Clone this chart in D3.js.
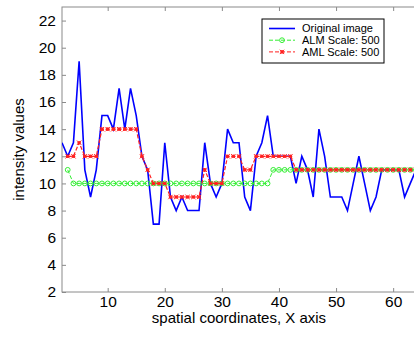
<!DOCTYPE html>
<html>
<head>
<meta charset="utf-8">
<script src="https://cdn.jsdelivr.net/npm/d3@7"></script>
<style>
  body { margin: 0; background: #fff; }
  svg { display: block; font-family: "Liberation Sans", Arial, sans-serif; }
</style>
</head>
<body>
<div id="chart"></div>
<script>
(function() {
    // x positions and intensity values
    var xOriginal = [2, 3, 4, 5, 6, 7, 8, 9, 10, 11, 12, 13, 14, 15, 16, 17, 18, 19, 20, 21, 22, 23, 24, 25, 26, 27, 28, 29, 30, 31, 32, 33,
                     34, 35, 36, 37, 38, 39, 40, 41, 42, 43, 44, 45, 46, 47, 48, 49, 50, 51, 52, 53, 54, 55, 56, 57, 58, 59, 60, 61, 62, 63, 64];
    var original = [13, 12, 13, 19, 11, 9, 11, 15, 15, 14, 17, 14, 17, 15, 12, 11, 7, 7, 13, 9, 8, 9, 8, 8, 8, 13, 10, 9, 10, 14, 13, 13,
                    9, 8, 12, 13, 15, 12, 12, 12, 12, 10, 12, 11, 9, 14, 12, 9, 9, 9, 8, 10, 12, 10, 8, 9, 11, 11, 11, 11, 9, 10, 11];

    var xScaled = [3, 4, 5, 6, 7, 8, 9, 10, 11, 12, 13, 14, 15, 16, 17, 18, 19, 20, 21, 22, 23, 24, 25, 26, 27, 28, 29, 30, 31, 32, 33,
                   34, 35, 36, 37, 38, 39, 40, 41, 42, 43, 44, 45, 46, 47, 48, 49, 50, 51, 52, 53, 54, 55, 56, 57, 58, 59, 60, 61, 62, 63, 64];
    var alm = [11, 10, 10, 10, 10, 10, 10, 10, 10, 10, 10, 10, 10, 10, 10, 10, 10, 10, 10, 10, 10, 10, 10, 10, 10, 10, 10, 10, 10, 10, 10,
               10, 10, 10, 10, 10, 11, 11, 11, 11, 11, 11, 11, 11, 11, 11, 11, 11, 11, 11, 11, 11, 11, 11, 11, 11, 11, 11, 11, 11, 11, 11];
    var aml = [12, 12, 13, 12, 12, 12, 14, 14, 14, 14, 14, 14, 14, 12, 11, 10, 10, 10, 9, 9, 9, 9, 9, 9, 11, 10, 10, 10, 12, 12, 12,
               11, 11, 12, 12, 12, 12, 12, 12, 12, 11, 11, 11, 11, 11, 11, 11, 11, 11, 11, 11, 11, 11, 11, 11, 11, 11, 11, 11, 11, 11, 11];

    var xTicks = [10, 20, 30, 40, 50, 60];
    var yTicks = [2, 4, 6, 8, 10, 12, 14, 16, 18, 20, 22];
    var legendLabels = ["Original image", "ALM Scale: 500", "AML Scale: 500"];

    var width = 414, height = 338;
    var margin = {left: 62, top: 7, right: -2, bottom: 46};
    var w = width - margin.left - margin.right,
        h = height - margin.top - margin.bottom;

    var xScale = d3.scaleLinear().domain([2, 64]).range([0, w]);
    var yScale = d3.scaleLinear().domain([2, 23]).range([h, 0]);

    var svg = d3.select("#chart").append("svg")
        .attr("width", width)
        .attr("height", height);

    var g = svg.append("g")
        .attr("transform", "translate(" + margin.left + "," + margin.top + ")");

    var axisColor = "#8a8a8a";

    // axes box
    g.append("rect")
        .attr("width", w).attr("height", h)
        .attr("fill", "#fff")
        .attr("stroke", axisColor);

    var xAxis = g.append("g")
        .attr("transform", "translate(0," + h + ")")
        .call(d3.axisBottom(xScale).tickValues(xTicks).tickSizeInner(-4).tickSizeOuter(0).tickPadding(4));
    var xAxisTop = g.append("g")
        .call(d3.axisTop(xScale).tickValues(xTicks).tickSizeInner(-4).tickSizeOuter(0).tickFormat(""));
    var yAxis = g.append("g")
        .call(d3.axisLeft(yScale).tickValues(yTicks).tickSizeInner(-4).tickSizeOuter(0).tickPadding(6));

    [xAxis, xAxisTop, yAxis].forEach(function(a) {
        a.select(".domain").remove();
        a.selectAll(".tick line").attr("stroke", axisColor);
        a.selectAll("text").attr("fill", "#000").style("font-size", "15.5px");
    });

    // clip data to the axes box
    g.append("clipPath").attr("id", "plotClip")
        .append("rect").attr("width", w).attr("height", h);

    var plot = g.append("g").attr("clip-path", "url(#plotClip)");

    var line = d3.line()
        .x(function(d) { return xScale(d[0]); })
        .y(function(d) { return yScale(d[1]); });

    var blueData = d3.zip(xOriginal, original),
        greenData = d3.zip(xScaled, alm),
        redData = d3.zip(xScaled, aml);

    plot.append("path")
        .datum(blueData)
        .attr("fill", "none")
        .attr("stroke", "#0000ff")
        .attr("stroke-width", 1.6)
        .attr("d", line);

    plot.append("path")
        .datum(greenData)
        .attr("fill", "none")
        .attr("stroke", "#33ee33")
        .attr("stroke-width", 1)
        .attr("stroke-dasharray", "4,2")
        .attr("d", line);

    plot.selectAll(".alm-dot")
        .data(greenData)
        .enter().append("circle")
        .attr("class", "alm-dot")
        .attr("cx", function(d) { return xScale(d[0]); })
        .attr("cy", function(d) { return yScale(d[1]); })
        .attr("r", 2.4)
        .attr("fill", "none")
        .attr("stroke", "#33ee33")
        .attr("stroke-width", 1);

    plot.append("path")
        .datum(redData)
        .attr("fill", "none")
        .attr("stroke", "#ff2020")
        .attr("stroke-width", 1.2)
        .attr("stroke-dasharray", "4,2")
        .attr("d", line);

    var star = d3.symbol().type(d3.symbolPlus).size(14);
    var starX = d3.symbol().type(d3.symbolTimes).size(14);

    // matlab '*' marker: plus + cross, which reads as a small red blob
    function drawStar(sel) {
        sel.append("circle").attr("r", 1.8).attr("fill", "#ff2020");
        sel.append("path").attr("d", star).attr("fill", "#ff2020");
        sel.append("path").attr("d", starX).attr("fill", "none").attr("stroke", "#ff2020").attr("stroke-width", 1);
    }

    plot.selectAll(".aml-dot")
        .data(redData)
        .enter().append("g")
        .attr("class", "aml-dot")
        .attr("transform", function(d) { return "translate(" + xScale(d[0]) + "," + yScale(d[1]) + ")"; })
        .call(drawStar);

    // axis titles
    svg.append("text")
        .attr("x", margin.left + xScale(33))
        .attr("y", 323)
        .attr("text-anchor", "middle")
        .style("font-size", "15px")
        .text("spatial coordinates, X axis");

    svg.append("text")
        .attr("transform", "translate(24," + (margin.top + h / 2) + ") rotate(-90)")
        .attr("text-anchor", "middle")
        .style("font-size", "15px")
        .text("intensity values");

    // legend
    var legend = svg.append("g").attr("transform", "translate(262,19)");
    legend.append("rect")
        .attr("width", 122).attr("height", 44)
        .attr("fill", "#fff")
        .attr("stroke", "#000");

    var rows = legend.selectAll(".row")
        .data(legendLabels)
        .enter().append("g")
        .attr("transform", function(d, i) { return "translate(0," + (9.5 + i * 11.7) + ")"; });

    rows.append("line")
        .attr("x1", 7).attr("x2", 33)
        .attr("stroke", function(d, i) { return ["#0000ff", "#33ee33", "#ff2020"][i]; })
        .attr("stroke-width", function(d, i) { return i === 0 ? 1.6 : 1; })
        .attr("stroke-dasharray", function(d, i) { return i === 0 ? null : "4,2"; });

    rows.filter(function(d, i) { return i === 1; })
        .append("circle")
        .attr("cx", 20).attr("r", 2.4)
        .attr("fill", "none").attr("stroke", "#33ee33");

    rows.filter(function(d, i) { return i === 2; })
        .append("g").attr("transform", "translate(20,0)")
        .call(drawStar);

    rows.append("text")
        .attr("x", 40)
        .attr("dy", "0.35em")
        .style("font-size", "11px")
        .text(function(d) { return d; });
})();
</script>
</body>
</html>
